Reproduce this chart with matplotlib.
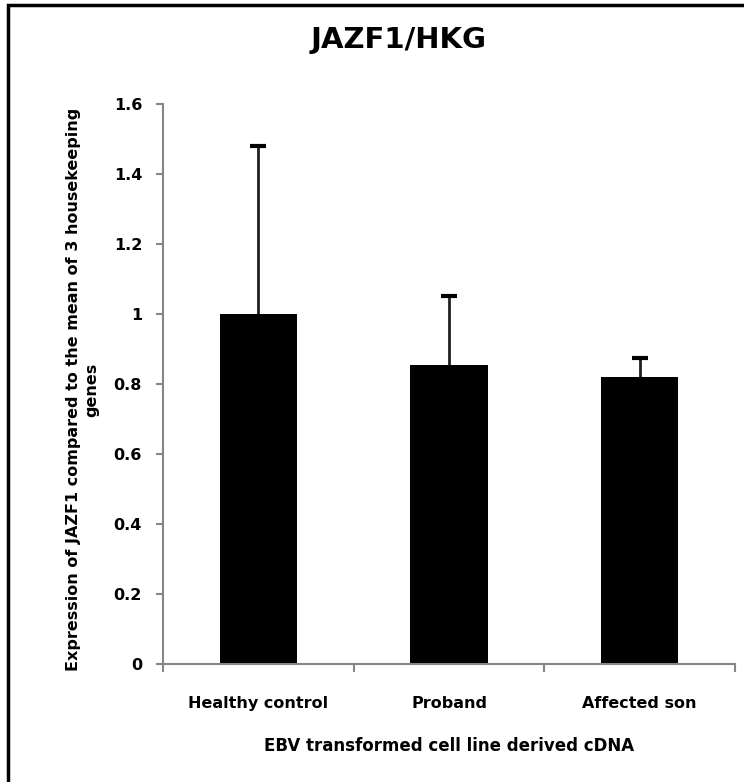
import numpy as np
import matplotlib
matplotlib.use('Agg')
import matplotlib.pyplot as plt
from matplotlib.ticker import FuncFormatter, FixedLocator
from matplotlib.patches import Rectangle

# data
groups = ['Healthy control', 'Proband', 'Affected son']
expression = [1.0, 0.854, 0.82]
err_up = [0.48, 0.197, 0.055]
y_ticks = [0, 0.2, 0.4, 0.6, 0.8, 1.0, 1.2, 1.4, 1.6]

plt.rcParams['font.family'] = ['DejaVu Sans']
plt.rcParams['font.weight'] = 'bold'

fig = plt.figure(figsize=(7.44, 7.82), dpi=100)
ax = fig.add_axes([0.219, 0.151, 0.769, 0.716])

x = np.arange(len(groups))
ax.bar(x, expression, width=0.405, color='black', zorder=2)
# upper error only: stem from bar top plus a cap at the end
ax.errorbar(x, expression, yerr=[np.zeros(len(err_up)), err_up], fmt='none',
            ecolor='#202020', elinewidth=2, capsize=0, zorder=1)
ax.plot(x, np.array(expression) + np.array(err_up), ls='none', marker='_',
        ms=11, mew=3, color='black', zorder=3)

ax.set_xlim(-0.5, len(groups) - 0.5)
ax.set_ylim(0, 1.6)
ax.set_yticks(y_ticks)
ax.yaxis.set_major_formatter(FuncFormatter(lambda v, p: '%g' % v))
ax.set_xticks(x)
ax.set_xticklabels(groups)
ax.xaxis.set_minor_locator(FixedLocator(np.arange(len(groups) + 1) - 0.5))

for s in ['top', 'right']:
    ax.spines[s].set_visible(False)
for s in ['left', 'bottom']:
    ax.spines[s].set_color('#868686')
    ax.spines[s].set_linewidth(1.5)

ax.tick_params(axis='y', direction='out', length=5, width=1.5, color='#868686',
               labelsize=11.5, pad=10)
ax.tick_params(axis='x', which='major', length=0, labelsize=11.5, pad=23)
ax.tick_params(axis='x', which='minor', direction='out', length=6, width=1.5,
               color='#868686')

ax.set_xlabel('EBV transformed cell line derived cDNA', fontsize=12,
              fontweight='bold', va='center')
ax.xaxis.set_label_coords(0.5, -0.146)
ax.set_ylabel('Expression of JAZF1 compared to the mean of 3 housekeeping\ngenes',
              fontsize=11.5, fontweight='bold', va='center', multialignment='center',
              linespacing=1.25)
ax.yaxis.set_label_coords(-0.14, 0.49)

fig.text(0.536, 0.949, 'JAZF1/HKG', fontsize=21, fontweight='bold',
         ha='center', va='center')

# outer chart frame (left and top visible, rest cropped)
fig.patches.append(Rectangle((0.011, -0.1), 1.2, 1.093, transform=fig.transFigure,
                             fill=False, edgecolor='black', linewidth=2.5))

fig.savefig('out.png', dpi=100)
